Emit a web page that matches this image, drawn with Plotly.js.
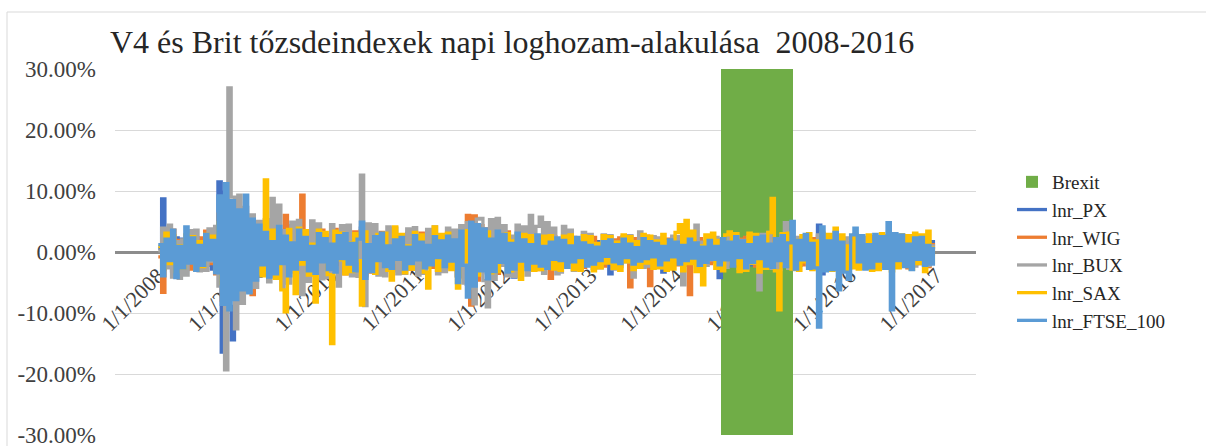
<!DOCTYPE html>
<html>
<head>
<meta charset="utf-8">
<script src="https://cdn.plot.ly/plotly-3.0.1.min.js"></script>
<style>
  html, body { margin: 0; padding: 0; background: #ffffff; }
  #chart { width: 1206px; height: 446px; }
</style>
</head>
<body>
<div id="chart"></div>
<script>
// ---- Data (daily log returns in % at a 14-day sampling) ----
const START_DATE = '2008-01-02';
const STEP_DAYS = 14;

const brexitStart = '2014-07-08';
const brexitEnd = '2015-05-08';
const brexitLow = -30;
const brexitHigh = 30;

const lnr_PX = [
  0.6, 8.7, -2.2, 1.0, -3.1, 2.3, -1.4, 2.1, -2.9, 1.1,
  -1.4, 2.3, -0.9, 1.5, -2.2, 0.7, -2.8, 3.2, 11.5, -16.4,
  9.8, -8.9, -14.4, 7.6, -6.8, 6.2, -5.9, 5.1, -6.6, 4.3,
  -4.0, 2.1, -3.7, 1.6, -2.4, 3.3, -1.2, 2.4, -3.0, 0.9,
  -2.1, 2.7, -0.8, 2.0, -2.6, 1.5, -1.9, 2.8, -1.4, 2.0,
  -2.7, 1.3, -1.5, 2.4, -0.7, 1.6, -2.3, 1.2, -2.5, 0.8,
  -2.1, 3.9, -3.6, 1.3, -2.4, 0.9, -1.6, 2.5, -1.1, 2.1,
  -1.0, 2.3, -2.1, 0.9, -1.7, 2.4, -1.0, 1.8, -2.1, 0.6,
  -1.9, 1.2, -2.3, 0.9, -1.4, 2.1, -0.8, 1.3, -2.2, 1.0,
  -3.8, 3.1, -4.0, -5.3, 3.9, -4.6, 3.5, -2.2, 3.2, -3.4,
  1.0, -2.9, 2.8, -1.6, 2.5, -1.4, 0.8, -4.1, 2.2, -1.3,
  2.0, -1.1, 1.2, -1.9, 0.6, -2.0, 1.8, -1.2, 0.9, -1.8,
  1.0, -1.7, 1.8, -0.9, 1.6, -0.8, 1.7, -1.6, 0.9, -1.7,
  1.5, -0.6, 1.7, -1.5, 0.8, -1.4, -3.6, 1.5, -0.7, 1.4,
  -1.5, 0.6, -1.3, 1.5, -0.9, 1.4, -1.5, 0.8, -1.4, 1.6,
  -0.8, 1.5, -3.3, 1.4, -0.6, 1.3, -1.6, 0.7, -1.4, 1.6,
  -1.5, 0.7, -1.6, 1.5, -0.9, 1.6, -1.5, 0.8, -1.6, -4.2,
  1.7, -0.8, 1.6, -1.9, 0.9, -1.7, 2.0, -1.0, 1.7, -2.1,
  0.9, -2.0, 2.2, -0.8, 2.0, -2.2, 0.9, -2.1, 2.3, -1.0,
  2.1, -2.3, 1.0, -2.2, 1.9, -0.9, 2.2, -2.0, 1.3, 4.4,
  -3.6, 2.6, -1.4, 2.5, -2.7, 1.3, -2.5, 1.4, -2.6, 2.2,
  -1.3, 2.5, -2.1, 1.4, -2.2, 2.3, -1.0, 2.2, -2.4, 1.1,
  -2.3, 2.6, -1.2, 2.0, -2.1, 1.3, -1.9, 2.2, -1.0, 1.8,
  -1.9, 1.1, -1.8, 1.7, 0.5
];

const lnr_WIG = [
  -0.8, -6.6, 2.4, -1.1, 3.6, -2.3, 1.9, -3.5, 1.2, -2.8,
  3.0, -1.7, 2.3, -2.5, 3.4, -1.9, 3.1, -3.6, 6.2, -7.9,
  6.8, -7.2, 5.4, -5.9, 5.6, -6.1, 4.8, -5.5, -7.0, 4.6,
  4.7, -2.3, 3.5, -4.0, 2.9, -3.8, 1.4, -4.1, 6.0, -2.9,
  4.3, -1.6, 3.6, 9.3, -4.2, 2.1, -3.7, 4.0, -1.5, 3.6,
  -3.8, 2.4, -1.3, 3.7, -3.1, 1.2, -3.6, 3.0, -2.2, 3.3,
  -1.0, 3.5, -3.9, 2.1, -3.3, 1.9, -3.0, 3.2, -1.8, 3.0,
  -2.9, 1.8, -3.1, 2.7, -1.6, 3.0, -2.8, 1.6, -2.9, 3.1,
  -1.7, 2.9, -2.5, 1.8, -3.0, 2.6, -1.7, 2.9, -2.6, 1.7,
  -3.9, 3.5, -4.1, 6.0, -8.7, 5.9, -4.6, 4.3, -2.9, 3.8,
  -3.6, 2.4, -3.5, 3.2, -2.0, 3.3, -2.9, 2.1, -2.8, 2.9,
  -1.7, 3.0, -2.6, 1.8, -2.9, 2.6, -1.5, 2.7, -4.3, 2.5,
  -2.4, 1.6, -2.3, 2.5, -1.6, 2.4, -2.2, 1.3, -2.5, 2.2,
  -1.1, 2.4, -2.0, 1.2, -2.3, 2.1, -0.9, 2.0, -2.2, 2.3,
  -1.0, 2.1, -5.7, 2.2, -1.9, 1.0, -2.1, 2.6, -5.5, 2.4,
  -2.0, 1.6, -2.2, 2.1, -0.9, 2.3, -2.1, 1.0, -2.2, 2.1,
  -7.0, 2.4, -1.0, 2.2, -2.1, 1.3, -1.9, 2.1, -1.2, 2.0,
  -2.1, 1.3, -2.0, 2.2, -1.3, 2.1, -2.2, 2.4, -1.0, 2.2,
  -2.3, 1.5, -2.1, 2.4, -1.2, 2.3, -2.4, 1.1, -2.3, 2.2,
  -1.0, 2.4, -2.2, 1.3, -2.1, 2.5, -1.3, 2.2, -2.4, 2.6,
  -1.5, 2.3, -2.2, 2.7, -1.4, 2.5, -2.6, 1.2, -2.3, 2.4,
  -2.1, 1.6, -2.4, 2.3, -1.2, 2.5, -2.7, 1.4, -2.3, 2.2,
  -2.5, 1.4, -2.2, 2.3, -1.1, 2.2, -2.6, 1.4, -2.0, 2.1,
  -1.2, 2.0, -2.4, 1.2, -0.6
];

const lnr_BUX = [
  0.2, 3.9, -2.6, 4.4, -4.1, 1.7, -4.3, 2.0, -3.8, 3.5,
  -1.3, 3.6, -3.1, 1.4, -3.0, 3.8, -1.5, 4.2, -5.6, 8.1,
  -19.3, 26.9, 9.0, -12.6, 9.3, -8.4, 7.3, -6.5, 6.1, -5.8,
  5.0, -3.2, 5.3, -4.9, 8.8, -2.4, 7.7, -6.0, 3.5, -5.1,
  4.9, -3.3, 5.2, -7.0, 2.7, -4.8, 5.1, -2.5, 4.6, -4.4,
  2.8, -4.2, 4.5, -2.6, -5.6, 4.3, -2.1, 4.4, -3.9, 2.2,
  -4.0, 12.6, -8.8, 4.6, -2.2, 4.5, -3.8, 2.3, -3.9, 4.1,
  -1.7, 3.9, -3.6, 2.2, -3.5, 3.8, -1.4, 4.0, -3.8, 1.6,
  -3.5, 3.7, -1.3, 4.1, -3.6, 2.5, -3.2, 3.9, -1.4, 3.6,
  -4.0, 4.3, -5.1, 4.8, -5.9, -8.5, 5.4, 5.5, -4.7, -9.0,
  5.3, -4.5, 5.5, -2.2, 4.3, -3.9, 2.6, -4.0, 4.4, -2.3,
  4.1, -3.8, 6.0, -1.6, 4.2, 5.7, -3.5, 4.8, -1.4, 3.9,
  -3.6, -3.3, 4.2, -1.2, 3.6, -3.0, 1.4, -2.9, 3.2, -1.8,
  2.9, -2.7, 1.0, -2.6, 2.8, -1.5, 2.7, -2.8, 1.6, -2.4,
  2.5, -1.6, 2.7, -4.1, 1.4, 3.3, -2.5, 1.6, -2.3, 2.5,
  -1.4, 2.3, -2.6, 1.4, -2.2, 2.6, -1.3, 2.5, -5.4, 2.7,
  -1.5, 2.3, 4.4, -2.4, 1.6, -2.2, 2.5, -1.3, 2.4, -2.6,
  1.7, -2.5, 2.8, -1.4, 2.6, -2.7, 1.9, -2.6, 2.5, -1.8,
  2.7, -6.2, 2.9, -1.6, 3.2, -2.7, 1.0, -2.9, 2.8, 4.8,
  -2.7, 1.6, -2.9, 2.4, -1.5, 2.7, -2.3, 1.5, -2.6, 2.8,
  -1.9, 2.6, -2.4, 1.7, -2.5, 2.4, -1.7, 2.3, -2.4, 1.6,
  -2.3, 2.5, -1.6, 2.4, -2.2, 1.6, -2.5, 2.3, -1.4, 2.5,
  -2.7, 1.4, -2.3, 2.6, -1.1, 2.3, -2.4, 1.2, -2.3, 2.4,
  -1.1, 2.3, -2.2, 1.0, 0.4
];

const lnr_SAX = [
  0.9, -2.8, 3.1, -1.9, 2.7, -3.2, 1.0, -2.6, 2.8, -1.4,
  2.5, -3.0, 1.7, -2.4, 2.9, -1.1, 2.6, -3.3, 4.8, -5.2,
  5.5, -4.9, 6.1, -5.7, 4.2, -4.6, 3.9, -4.4, 3.8, -3.6,
  2.0, -3.9, 11.8, -2.1, 3.6, -4.3, 1.4, -6.2, -9.8, 3.7,
  -1.5, -6.8, 3.9, -2.0, 3.5, -3.8, 1.3, -8.2, 3.6, -1.4,
  3.2, -3.7, -15.0, 3.4, -1.3, 3.1, -3.6, 1.5, -3.2, 3.0,
  -1.4, -8.7, 3.3, -3.1, 1.2, -3.5, 2.9, -1.3, 3.1, -3.0,
  -4.6, 4.1, -1.2, 2.9, -3.4, 1.0, -2.8, 3.2, -1.1, 2.8,
  -3.3, -5.9, 1.0, 4.1, -3.0, 2.9, -1.2, 3.1, -2.9, 1.0,
  -5.9, 3.3, -1.6, 3.5, -4.0, 1.4, -3.8, 3.2, -1.5, 3.3,
  -3.4, 1.1, -3.2, 2.9, -1.3, 3.0, -3.1, 1.8, 2.8, -4.5,
  2.9, -1.2, 2.7, -3.0, 1.8, -2.9, 2.6, -1.1, 2.7, -2.8,
  1.9, -3.0, 2.6, -1.7, 2.8, -2.9, 1.5, -3.0, 2.7, -1.6,
  2.5, -3.1, 1.4, -2.6, 2.7, -1.8, 2.5, -2.7, 1.6, -3.0,
  2.8, -1.6, 2.5, -2.9, 1.7, -2.5, 2.9, -1.8, 2.6, -2.7,
  1.8, -2.6, 2.9, -3.0, 1.7, -2.8, 3.2, 4.5, -3.1, 5.2,
  -1.9, 3.4, -3.2, 1.0, -5.4, 2.8, -1.0, 3.1, -2.7, 1.9,
  -3.1, 2.8, 3.3, -1.9, 3.0, -3.2, 1.7, -3.0, 3.1, -1.8,
  2.9, -3.3, 1.0, -2.7, 3.2, 8.8, -3.1, -9.5, 3.0, -1.9,
  3.1, -2.8, 1.9, -3.0, 2.7, -1.6, 3.0, -2.9, 1.8, -2.7,
  3.1, -1.8, 2.9, -3.0, 3.9, -1.9, 2.8, -3.1, 1.0, -2.6,
  2.9, -2.8, 1.1, -2.7, 2.8, -3.0, 1.6, -2.9, 3.0, -1.8,
  2.7, -3.1, 1.9, -2.6, 2.8, -1.0, 2.7, -2.8, 3.1, -1.9,
  2.8, -3.2, 3.4, -1.7, 0.9
];

const lnr_FTSE_100 = [
  1.2, -3.9, 2.1, -1.4, 3.6, -4.2, 0.9, -2.6, 4.1, -1.8,
  2.3, -3.0, 1.1, -2.2, 2.9, -1.3, 1.9, -3.4, 9.2, -8.6,
  11.2, -9.5, 8.4, -7.8, 6.9, -6.2, 9.3, -6.7, 5.4, -4.6,
  4.4, -2.1, 3.2, -4.1, 1.7, -3.6, 4.2, -1.9, 2.6, -3.9,
  1.5, -2.8, 3.6, -1.2, 2.4, -3.1, 0.9, -3.5, 3.0, -1.6,
  2.2, -2.9, 1.3, -3.3, 2.7, -1.1, 3.0, -2.0, 1.4, -3.1,
  2.1, 4.9, -4.3, 1.2, -3.2, 2.5, -1.4, 3.1, -2.4, 1.0,
  -2.7, 2.0, -1.2, 2.4, -2.8, 0.8, -1.9, 2.7, -1.3, 1.6,
  -2.6, 1.1, -2.1, 2.5, -0.9, 1.8, -2.4, 2.6, -1.5, 2.0,
  -5.0, 3.4, -2.2, -7.4, 4.9, -5.6, 4.5, -3.1, 3.8, -4.4,
  2.1, -3.2, 3.4, -1.7, 2.9, -3.3, 1.4, -2.8, 3.1, -1.5,
  2.0, -2.9, 1.2, -1.8, 2.8, -2.3, 0.9, -2.7, 1.6, -1.2,
  2.3, -1.4, 1.9, -2.5, 1.0, -1.6, 2.4, -0.9, 1.5, -2.3,
  1.1, -2.0, 0.8, -1.4, 1.7, -0.7, 2.0, -1.6, 1.2, -1.9,
  2.1, -0.9, 1.3, -2.0, 0.7, -1.5, 2.2, -1.1, 1.7, -0.8,
  1.4, -2.1, 0.9, -1.3, 2.0, -0.8, 1.6, -2.0, 1.1, -1.4,
  2.1, -1.0, 1.5, -2.2, 0.8, -1.7, 1.9, -1.2, 0.9, -2.1,
  2.2, -1.3, 1.6, -2.3, 2.5, -0.9, 1.8, -2.6, 1.2, -1.7,
  2.4, -1.1, 2.6, -2.3, 1.3, -2.5, 2.2, -1.4, 2.7, -2.4,
  1.5, 5.0, -2.8, 1.9, -1.3, 2.9, -2.7, 1.4, -2.6, -12.3,
  4.1, -3.1, 1.8, -2.9, 3.2, -6.2, 1.6, -3.3, -4.5, 2.8,
  3.9, -1.6, 2.7, -2.8, 1.2, -2.6, 2.9, -1.5, 2.5, -2.7,
  4.8, -9.5, 3.0, -1.4, 2.8, -2.4, 1.3, -2.9, 2.3, -1.2,
  2.4, -2.2, 1.1, -2.0, 0.8
];

const seriesNames = ['lnr_PX', 'lnr_WIG', 'lnr_BUX', 'lnr_SAX', 'lnr_FTSE_100'];
const seriesValues = [lnr_PX, lnr_WIG, lnr_BUX, lnr_SAX, lnr_FTSE_100];
const seriesColors = ['#4472C4', '#ED7D31', '#A5A5A5', '#FFC000', '#5B9BD5'];

const yTickVals = [-30, -20, -10, 0, 10, 20, 30];
const yTickText = ['-30.00%', '-20.00%', '-10.00%', '0.00%', '10.00%', '20.00%', '30.00%'];

// ---- Traces ----
const DAY_MS = 86400000;
const bStart = new Date(brexitStart + 'T00:00:00Z').getTime();
const bEnd = new Date(brexitEnd + 'T00:00:00Z').getTime();
const bMid = new Date((bStart + bEnd) / 2).toISOString().slice(0, 10);

const traces = [{
  type: 'bar',
  name: 'Brexit',
  x: [bMid],
  y: [brexitHigh - brexitLow],
  base: [brexitLow],
  width: [bEnd - bStart],
  marker: { color: '#70AD47', line: { width: 0 } },
  hoverinfo: 'skip'
}];

seriesNames.forEach((name, k) => {
  traces.push({
    type: 'scatter',
    mode: 'lines',
    name: name,
    x0: START_DATE,
    dx: STEP_DAYS * DAY_MS,
    y: seriesValues[k],
    line: { color: seriesColors[k], width: 3.3, shape: 'hv' }
  });
});

const serif = 'Liberation Serif';
const PL = 115, PR = 976, PT = 69, PB = 435;
const PW = PR - PL, PH = PB - PT;

const layout = {
  width: 1206,
  height: 446,
  margin: { l: PL, r: 1206 - PR, t: PT, b: 446 - PB, pad: 0 },
  paper_bgcolor: '#ffffff',
  plot_bgcolor: '#ffffff',
  font: { family: serif, color: '#404040' },
  title: {
    text: 'V4 és Brit tőzsdeindexek napi loghozam-alakulása\u00a0 2008-2016',
    font: { family: serif, size: 32, color: '#262626' },
    x: 110 / 1206,
    xanchor: 'left',
    y: 1 - 42 / 446,
    yanchor: 'middle'
  },
  showlegend: true,
  legend: {
    x: (1012 - PL) / PW,
    xanchor: 'left',
    y: 1 - (163 - PT) / PH,
    yanchor: 'top',
    font: { family: serif, size: 19, color: '#262626' },
    traceorder: 'normal',
    bgcolor: 'rgba(0,0,0,0)'
  },
  xaxis: {
    type: 'date',
    range: ['2007-07-03', '2017-06-19'],
    anchor: 'free',
    position: 0.5,
    showgrid: false,
    zeroline: false,
    showline: true,
    linecolor: '#8c8c8c',
    linewidth: 3,
    ticks: '',
    tick0: '2008-01-01',
    dtick: 'M12',
    tickformat: '%-m/%-d/%Y',
    tickangle: -45,
    tickfont: { family: serif, size: 22, color: '#404040' },
    layer: 'below traces',
    fixedrange: true
  },
  yaxis: {
    range: [-30, 30],
    tickmode: 'array',
    tickvals: yTickVals,
    ticktext: yTickText,
    showgrid: true,
    gridcolor: '#d9d9d9',
    gridwidth: 1,
    zeroline: false,
    showline: false,
    ticks: '',
    ticklabelstandoff: 18,
    ticklabeloverflow: 'allow',
    tickfont: { family: serif, size: 23, color: '#404040' },
    fixedrange: true
  },
  shapes: [
    { type: 'line', xref: 'paper', yref: 'paper',
      x0: (7 - PL) / PW, x1: (1206 - PL) / PW,
      y0: 1 + (PT - 12) / PH, y1: 1 + (PT - 12) / PH,
      line: { color: '#d9d9d9', width: 1 } },
    { type: 'line', xref: 'paper', yref: 'paper',
      x0: (7 - PL) / PW, x1: (7 - PL) / PW,
      y0: 1 + (PT - 12) / PH, y1: -0.1,
      line: { color: '#d9d9d9', width: 1 } }
  ],
  bargap: 0
};

Plotly.newPlot('chart', traces, layout, { displayModeBar: false, staticPlot: true });
</script>
</body>
</html>
